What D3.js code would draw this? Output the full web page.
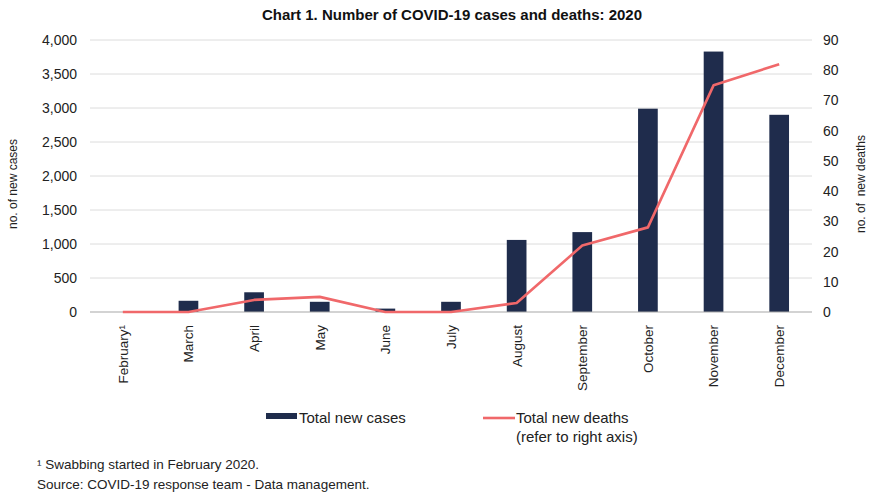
<!DOCTYPE html>
<html>
<head>
<meta charset="utf-8">
<script src="https://cdn.jsdelivr.net/npm/d3@7"></script>
<style>
  html, body { margin: 0; padding: 0; background: #fff; }
  svg { display: block; font-family: "Liberation Sans", Arial, sans-serif; }
</style>
</head>
<body>
<svg id="chart" width="870" height="496"></svg>
<script>
// Monthly COVID-19 figures, 2020
const months = ["February\u00B9", "March", "April", "May", "June", "July",
                "August", "September", "October", "November", "December"];
const newCases = [0, 165, 290, 150, 50, 150, 1060, 1175, 2990, 3830, 2900];
const newDeaths = [0, 0, 4, 5, 0, 0, 3, 22, 28, 75, 82];
const caseTicks = [0, 500, 1000, 1500, 2000, 2500, 3000, 3500, 4000];
const deathTicks = [0, 10, 20, 30, 40, 50, 60, 70, 80, 90];

const navy = "#1f2c4c";
const red = "#f0686a";

const svg = d3.select("#chart");
const m = { left: 90, right: 812, top: 40, bottom: 312 };

const x = d3.scaleBand().domain(months).range([m.left, m.right])
  .paddingInner(0.7).paddingOuter(0.35);
const yL = d3.scaleLinear().domain([0, 4000]).range([m.bottom, m.top]);
const yR = d3.scaleLinear().domain([0, 90]).range([m.bottom, m.top]);

// Title
svg.append("text")
  .attr("x", 452).attr("y", 20)
  .attr("text-anchor", "middle")
  .style("font-family", "'Liberation Sans Narrow', 'Arial Narrow', 'Liberation Sans', sans-serif")
  .style("font-weight", "bold").style("font-size", "15px")
  .attr("fill", "#111")
  .text("Chart 1. Number of COVID-19 cases and deaths: 2020");

// Gridlines
svg.append("g").selectAll("line")
  .data(caseTicks.filter(d => d > 0))
  .join("line")
  .attr("x1", m.left).attr("x2", m.right)
  .attr("y1", d => yL(d)).attr("y2", d => yL(d))
  .attr("stroke", "#dcdcdc").attr("stroke-width", 1);

// Left axis (cases)
const leftAxis = svg.append("g")
  .attr("transform", `translate(${m.left},0)`)
  .call(d3.axisLeft(yL).tickValues(caseTicks).tickFormat(d3.format(",")).tickSize(0).tickPadding(13));
leftAxis.select(".domain").remove();
leftAxis.selectAll("text").style("font-size", "14px").attr("fill", "#222")
  .style("font-family", "'Liberation Sans', Arial, sans-serif");

// Right axis (deaths)
const rightAxis = svg.append("g")
  .attr("transform", `translate(${m.right},0)`)
  .call(d3.axisRight(yR).tickValues(deathTicks).tickSize(0).tickPadding(11));
rightAxis.select(".domain").remove();
rightAxis.selectAll("text").style("font-size", "14px").attr("fill", "#222")
  .style("font-family", "'Liberation Sans', Arial, sans-serif");

// Axis titles
svg.append("text")
  .attr("transform", `translate(17,${(m.top + m.bottom) / 2 + 8}) rotate(-90)`)
  .attr("text-anchor", "middle").style("font-size", "12px").attr("fill", "#222")
  .text("no. of new cases");
svg.append("text")
  .attr("transform", `translate(865,${(m.top + m.bottom) / 2 + 8}) rotate(-90)`)
  .attr("text-anchor", "middle").style("font-size", "12px").attr("fill", "#222")
  .attr("xml:space", "preserve")
  .text("no. of  new deaths");

// Bars
svg.append("g").selectAll("rect")
  .data(months.map((mo, i) => ({ mo, v: newCases[i] })))
  .join("rect")
  .attr("x", d => x(d.mo))
  .attr("width", x.bandwidth())
  .attr("y", d => yL(d.v))
  .attr("height", d => yL(0) - yL(d.v))
  .attr("fill", navy);

// Baseline
svg.append("line")
  .attr("x1", m.left).attr("x2", m.right)
  .attr("y1", yL(0)).attr("y2", yL(0))
  .attr("stroke", "#a8a8a8").attr("stroke-width", 1.2);

// Deaths line
const line = d3.line()
  .x((d, i) => x(months[i]) + x.bandwidth() / 2)
  .y(d => yR(d));
svg.append("path")
  .datum(newDeaths)
  .attr("d", line)
  .attr("fill", "none")
  .attr("stroke", red).attr("stroke-width", 2.6)
  .attr("stroke-linejoin", "round");

// Month labels
svg.append("g").selectAll("text")
  .data(months)
  .join("text")
  .attr("transform", d => `translate(${x(d) + x.bandwidth() / 2},325) rotate(-90)`)
  .attr("text-anchor", "end").attr("dy", "0.36em")
  .style("font-size", "13.5px").attr("fill", "#222")
  .text(d => d);

// Legend
const lg = svg.append("g");
lg.append("rect").attr("x", 266).attr("y", 413).attr("width", 31).attr("height", 6).attr("fill", navy);
lg.append("text").attr("x", 299).attr("y", 423).style("font-size", "15px").attr("fill", "#222")
  .text("Total new cases");
lg.append("line").attr("x1", 483).attr("x2", 515).attr("y1", 418).attr("y2", 418)
  .attr("stroke", red).attr("stroke-width", 2.6);
lg.append("text").attr("x", 516).attr("y", 423).style("font-size", "15px").attr("fill", "#222")
  .text("Total new deaths");
lg.append("text").attr("x", 516).attr("y", 442).style("font-size", "15px").attr("fill", "#222")
  .text("(refer to right axis)");

// Notes
svg.append("text").attr("x", 37).attr("y", 469).style("font-size", "13.5px").attr("fill", "#222")
  .text("\u00B9 Swabbing started in February 2020.");
svg.append("text").attr("x", 37).attr("y", 489).style("font-size", "13.5px").attr("fill", "#222")
  .text("Source: COVID-19 response team - Data management.");
</script>
</body>
</html>
